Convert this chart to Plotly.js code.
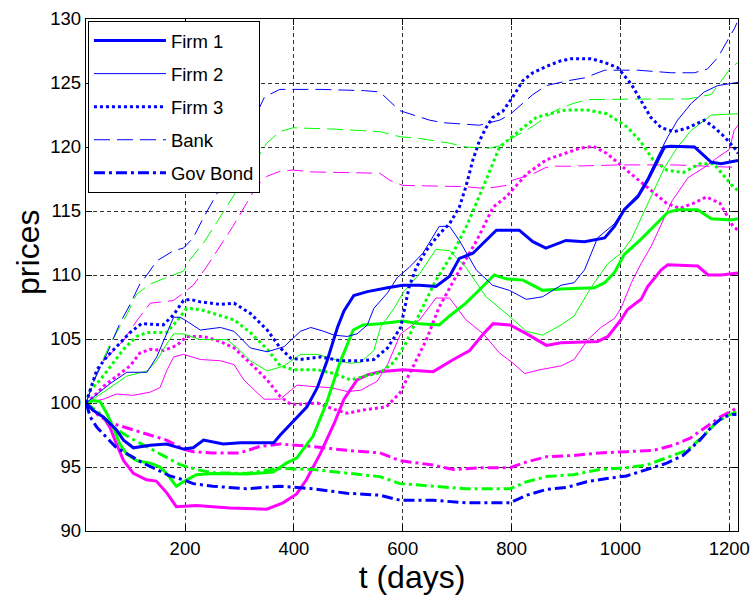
<!DOCTYPE html>
<html>
<head>
<meta charset="utf-8">
<script src="https://cdn.plot.ly/plotly-3.0.1.min.js"></script>
<style>html,body{margin:0;padding:0;background:#fff;}#chart{width:751px;height:596px;}</style>
</head>
<body>
<div id="chart"></div>
<script>
// ---- Firm 1 (thick solid) ----
const firm1BlueDays = [18,32,50,74,87,105,136,166,197,215,234,270,302,363,375,400,424,443,461,480,492,510,535,572,600,631,661,686,704,729,753,772,814,839,863,900,934,971,989,1007,1032,1050,1069,1081,1093,1136,1154,1167,1185,1216];
const firm1BlueVals = [100,99.4,98.9,97.9,97.1,96.5,96.7,96.8,96.4,96.5,97.1,96.8,96.9,96.9,97.5,98.6,99.7,101.2,103.3,105.9,107.2,108.4,108.7,109.0,109.2,109.2,109.1,109.9,111.3,111.7,112.7,113.5,113.5,112.6,112.1,112.7,112.6,112.9,113.8,115.1,116.1,117.4,119.0,120.0,120.05,120.0,119.3,118.8,118.7,118.95];
const firm1GreenDays = [18,32,44,56,68,80,93,111,136,154,166,184,203,221,251,313,362,386,405,435,460,484,509,527,558,600,631,667,686,716,747,768,790,821,857,891,952,971,989,1007,1038,1062,1087,1105,1142,1167,1203,1216];
const firm1GreenVals = [100,100.2,100.1,99.2,98.1,96.8,96.0,95.5,95.3,95.0,94.5,93.5,94.0,94.4,94.5,94.45,94.6,95.3,95.7,97.4,100.0,103.1,105.7,106.1,106.2,106.4,106.2,106.1,106.8,107.8,109.1,110.0,109.7,109.6,108.8,108.9,109.0,109.4,110.2,111.6,112.8,113.8,114.9,115.1,115.1,114.4,114.3,114.4];
const firm1MagentaDays = [18,32,50,62,74,87,105,129,147,166,184,221,282,350,380,405,423,448,474,492,516,535,558,600,656,693,723,748,766,797,828,864,891,958,977,1001,1013,1038,1050,1075,1087,1142,1161,1185,1216];
const firm1MagentaVals = [100,99.4,98.9,98.1,96.8,95.5,94.5,94.0,93.9,93.0,91.9,92.0,91.8,91.7,92.2,92.9,94.0,96.0,98.4,100.3,101.8,102.2,102.45,102.6,102.45,103.4,104.1,105.4,106.2,106.1,105.4,104.5,104.7,104.8,105.2,106.5,107.3,108.1,109.1,110.4,110.8,110.7,110.0,110.0,110.15];

// ---- Firm 2 (thin solid) ----
const firm2BlueDays = [18,38,62,93,130,148,166,179,191,203,228,265,290,320,351,382,412,431,455,474,498,516,535,547,572,590,612,637,667,686,704,735,765,796,827,857,891,915,934,946,958,989,1007,1032,1050,1069,1087,1105,1130,1154,1179,1216];
const firm2BlueVals = [100,100.7,101.5,102.4,102.4,103.6,105.4,106.7,106.7,106.4,105.7,105.9,105.6,104.3,104.0,104.4,105.6,105.9,105.6,105.3,105.2,105.4,106.1,107.4,108.6,109.8,110.6,111.7,113.8,113.8,112.7,110.4,109.2,108.8,108.1,108.3,109.2,109.4,110.4,111.7,112.9,114.0,115.2,116.3,117.6,119.3,120.8,122.1,123.4,124.3,124.8,125.05];
const firm2GreenDays = [18,38,62,93,130,148,166,179,197,228,277,296,320,351,382,412,443,474,504,523,547,559,584,602,631,661,686,716,753,790,827,857,891,915,940,952,977,1001,1020,1044,1062,1081,1105,1130,1167,1216];
const firm2GreenVals = [100,100.5,101.2,102.1,102.5,103.3,104.6,105.4,105.4,104.95,104.95,104.3,103.3,102.5,102.9,103.8,103.8,103.4,103.1,103.2,104.1,105.9,107.4,108.7,110.1,112.0,111.9,110.6,108.3,107.0,105.6,105.3,106.1,106.8,108.6,109.4,110.9,111.7,112.8,115.0,116.6,118.4,120.0,121.3,122.5,122.6];
const firm2MagentaDays = [18,50,74,105,136,154,166,179,197,228,265,290,308,345,375,406,431,467,498,523,553,572,596,631,661,686,716,748,778,803,824,852,891,915,940,964,989,1001,1020,1038,1056,1075,1095,1124,1154,1179,1200,1209,1216];
const firm2MagentaVals = [100,100.3,100.7,100.6,100.85,101.2,102.5,103.6,103.8,103.4,103.3,103.0,101.8,100.3,100.3,101.4,101.3,101.2,100.9,101.0,101.7,103.0,105.4,106.5,108.2,108.2,106.5,105.4,103.9,103.1,102.3,102.6,102.9,103.4,104.95,105.9,106.6,107.4,109.4,110.9,112.2,114.0,115.8,117.6,118.4,119.2,119.8,121.3,121.7];

// ---- Firm 3 (thick dotted) ----
const firm3BlueDays = [18,26,38,56,74,99,120,160,179,197,209,228,265,290,320,351,375,394,412,449,486,523,547,572,596,612,625,643,667,686,704,716,729,741,753,765,784,802,821,839,864,888,909,946,971,995,1020,1038,1056,1075,1099,1124,1154,1173,1191,1210,1216];
const firm3BlueVals = [100,101.0,102.6,103.6,104.4,105.5,106.2,106.1,106.9,108.0,108.1,107.9,107.7,107.8,107.0,105.7,104.3,103.5,103.4,103.6,103.3,103.3,103.4,104.3,105.9,109.1,110.6,111.9,113.2,114.0,115.3,116.9,119.0,120.5,121.5,122.3,122.8,123.9,125.2,125.8,126.3,126.7,126.9,126.9,126.6,126.2,124.9,123.6,122.3,121.5,121.2,121.5,122.1,121.5,120.8,119.9,119.5];
const firm3GreenDays = [18,26,44,62,87,111,130,166,185,203,228,259,290,320,351,375,400,443,474,504,523,559,584,606,631,661,692,717,748,778,815,845,870,901,938,975,1011,1036,1060,1085,1115,1146,1171,1191,1207,1216];
const firm3GreenVals = [100,101.0,101.8,102.8,104.2,105.2,105.5,105.5,106.4,107.4,107.3,106.9,106.5,105.5,104.2,102.9,102.6,102.6,102.3,101.8,102.0,102.4,103.2,104.7,107.0,109.6,111.7,113.8,116.9,120.0,121.3,122.3,122.6,122.9,122.9,122.6,121.6,120.5,119.0,118.2,118.0,118.7,118.7,117.7,116.9,116.6];
const firm3MagentaDays = [18,32,50,74,99,117,136,160,185,203,234,265,290,320,351,375,394,412,443,474,498,527,570,595,625,643,667,698,736,766,790,828,864,925,950,975,1011,1048,1085,1109,1134,1158,1183,1207,1216];
const firm3MagentaVals = [100,100.5,101.3,102.1,102.9,103.9,104.2,104.1,104.5,105.2,105.2,104.8,104.3,103.1,101.8,100.5,99.9,99.9,100.0,99.5,99.2,99.45,99.7,100.8,103.4,104.9,107.5,109.9,112.7,115.3,116.1,117.9,119.0,119.9,120.05,119.5,118.2,116.9,115.6,115.2,115.6,116.1,115.6,113.8,113.5];

// ---- Bank (thin dashed) ----
const bankBlueDays = [18,32,56,80,99,117,130,148,179,197,215,234,258,300,346,374,450,530,558,582,594,649,674,741,778,796,821,839,864,906,934,971,1032,1093,1136,1160,1179,1197,1210,1214];
const bankBlueVals = [100,101.7,103.8,106.2,107.7,109.3,110.0,111.1,111.9,112.1,112.9,114.5,116.3,119.8,123.9,124.5,124.5,124.4,124.3,123.3,122.85,122.1,121.9,121.7,122.1,122.5,123.4,124.1,124.8,125.2,125.4,126.0,126.0,125.8,125.8,126.1,127.0,128.3,129.3,129.7];
const bankGreenDays = [18,38,62,93,111,136,166,197,209,234,258,283,315,350,374,398,472,558,595,625,686,716,759,778,796,827,852,883,913,940,1032,1124,1167,1185,1203,1216];
const bankGreenVals = [100,102.3,104.6,106.9,108.5,109.3,109.8,110.3,111.2,112.5,114.1,115.8,118.0,120.3,121.2,121.5,121.4,121.2,120.8,120.7,120.3,120.0,119.9,120.1,120.6,121.3,122.0,122.9,123.4,123.7,123.75,123.75,124.1,125.2,126.2,126.6];
const bankMagentaDays = [18,44,87,111,136,178,185,215,239,264,288,313,331,350,374,398,435,558,576,600,655,716,753,790,802,839,863,876,906,1000,1100,1216];
const bankMagentaVals = [100,103.0,104.9,106.4,107.8,108.0,108.2,109.2,110.6,112.2,113.8,115.6,116.9,117.7,118.1,118.2,118.05,117.95,117.4,117.0,116.95,116.9,116.75,117.0,117.4,117.9,118.4,118.5,118.5,118.6,118.6,118.4];

// ---- Gov Bond (thick dash-dot) ----
const govBlueDays = [18,26,38,56,74,99,123,148,172,197,215,251,313,374,435,497,558,595,656,717,797,828,864,901,938,975,1011,1048,1085,1115,1146,1171,1189,1207,1213];
const govBlueVals = [100,98.9,98.1,97.3,96.5,95.9,95.3,94.8,94.3,94.0,93.7,93.5,93.3,93.5,93.3,92.95,92.8,92.4,92.4,92.2,92.2,92.8,93.25,93.4,93.85,94.1,94.3,94.8,95.3,95.9,97.1,98.3,98.9,99.1,99.1];
const govGreenDays = [18,43,68,98,129,160,190,221,251,313,374,435,497,558,595,656,717,797,828,864,913,962,1011,1048,1085,1122,1152,1177,1201,1213];
const govGreenVals = [100,99.2,98.1,97.3,96.6,95.9,95.2,94.8,94.55,94.5,94.9,94.8,94.55,94.25,93.7,93.5,93.3,93.3,93.85,94.25,94.4,94.8,94.95,95.15,95.7,96.3,97.4,98.5,99.1,99.3];
const govMagentaDays = [18,44,74,105,136,166,197,215,251,301,337,374,435,497,558,595,656,693,748,797,828,864,913,962,1011,1060,1097,1128,1158,1183,1207,1213];
const govMagentaVals = [100,98.9,98.3,97.9,97.5,97.1,96.4,96.2,96.1,96.1,96.6,96.8,96.6,96.3,96.1,95.5,95.15,94.8,94.95,94.95,95.4,95.8,95.9,96.1,96.2,96.3,96.7,97.25,98.15,98.9,99.45,99.6];

const seriesNames = ['Firm 1','Firm 2','Firm 3','Bank','Gov Bond'];
const xTickVals = [200,400,600,800,1000,1200];
const yTickVals = [90,95,100,105,110,115,120,125,130];

const BLUE = '#0000ff', GREEN = '#00ff00', MAGENTA = '#ff00ff';
const styles = {
  'Firm 1': {width: 3, dash: 'solid'},
  'Firm 2': {width: 1, dash: 'solid'},
  'Firm 3': {width: 3, dash: '3px,3px'},
  'Bank': {width: 1, dash: '16px,7px'},
  'Gov Bond': {width: 3, dash: '11px,4px,3px,4px'}
};
const groups = {
  'Firm 1': [[firm1BlueDays, firm1BlueVals], [firm1GreenDays, firm1GreenVals], [firm1MagentaDays, firm1MagentaVals]],
  'Firm 2': [[firm2BlueDays, firm2BlueVals], [firm2GreenDays, firm2GreenVals], [firm2MagentaDays, firm2MagentaVals]],
  'Firm 3': [[firm3BlueDays, firm3BlueVals], [firm3GreenDays, firm3GreenVals], [firm3MagentaDays, firm3MagentaVals]],
  'Bank': [[bankBlueDays, bankBlueVals], [bankGreenDays, bankGreenVals], [bankMagentaDays, bankMagentaVals]],
  'Gov Bond': [[govBlueDays, govBlueVals], [govGreenDays, govGreenVals], [govMagentaDays, govMagentaVals]]
};
const colors = [BLUE, GREEN, MAGENTA];

const traces = [];
[2, 1, 0].forEach(ci => {
  seriesNames.forEach((name, si) => {
    const [xs, ys] = groups[name][ci];
    traces.push({
      type: 'scatter', mode: 'lines', x: xs, y: ys,
      name: name,
      legendgroup: 'g' + si,
      legendrank: si + 1,
      showlegend: ci === 0,
      line: {color: colors[ci], width: styles[name].width, dash: styles[name].dash, shape: 'linear'},
      hoverinfo: 'skip'
    });
  });
});

const FONT = 'Liberation Sans, Arial, sans-serif';
const layout = {
  width: 751, height: 596,
  margin: {l: 86, r: 13, t: 19, b: 65},
  paper_bgcolor: '#ffffff', plot_bgcolor: '#ffffff',
  font: {family: FONT, size: 18.5, color: '#000'},
  showlegend: true,
  legend: {
    x: 0.003, y: 0.996, xanchor: 'left', yanchor: 'top',
    bgcolor: '#ffffff', bordercolor: '#000', borderwidth: 1,
    font: {family: FONT, size: 18.5, color: '#000'},
    itemwidth: 72, tracegroupgap: 6, traceorder: 'grouped'
  },
  xaxis: {
    range: [18, 1216], tickvals: xTickVals, ticktext: xTickVals.map(String),
    ticks: 'inside', ticklen: 6, tickcolor: '#000', tickwidth: 1,
    showline: true, linecolor: '#000', linewidth: 1.3, mirror: 'ticks',
    showgrid: true, gridcolor: '#333', gridwidth: 1, griddash: '4px,3px',
    zeroline: false, tickfont: {family: FONT, size: 18.5, color: '#000'},
    title: {text: 't (days)', font: {family: FONT, size: 32, color: '#000'}, standoff: 8}
  },
  yaxis: {
    range: [90, 130], tickvals: yTickVals, ticktext: yTickVals.map(String),
    ticks: 'inside', ticklen: 6, tickcolor: '#000', tickwidth: 1,
    showline: true, linecolor: '#000', linewidth: 1.3, mirror: 'ticks',
    showgrid: true, gridcolor: '#333', gridwidth: 1, griddash: '4px,3px',
    zeroline: false, tickfont: {family: FONT, size: 18.5, color: '#000'}
  },
  annotations: [{
    text: 'prices', xref: 'paper', yref: 'paper',
    x: -0.089, y: 0.545, xanchor: 'center', yanchor: 'middle',
    textangle: -90, showarrow: false,
    font: {family: FONT, size: 32, color: '#000'}
  }]
};

Plotly.newPlot('chart', traces, layout, {displayModeBar: false, staticPlot: true});
</script>
</body>
</html>
